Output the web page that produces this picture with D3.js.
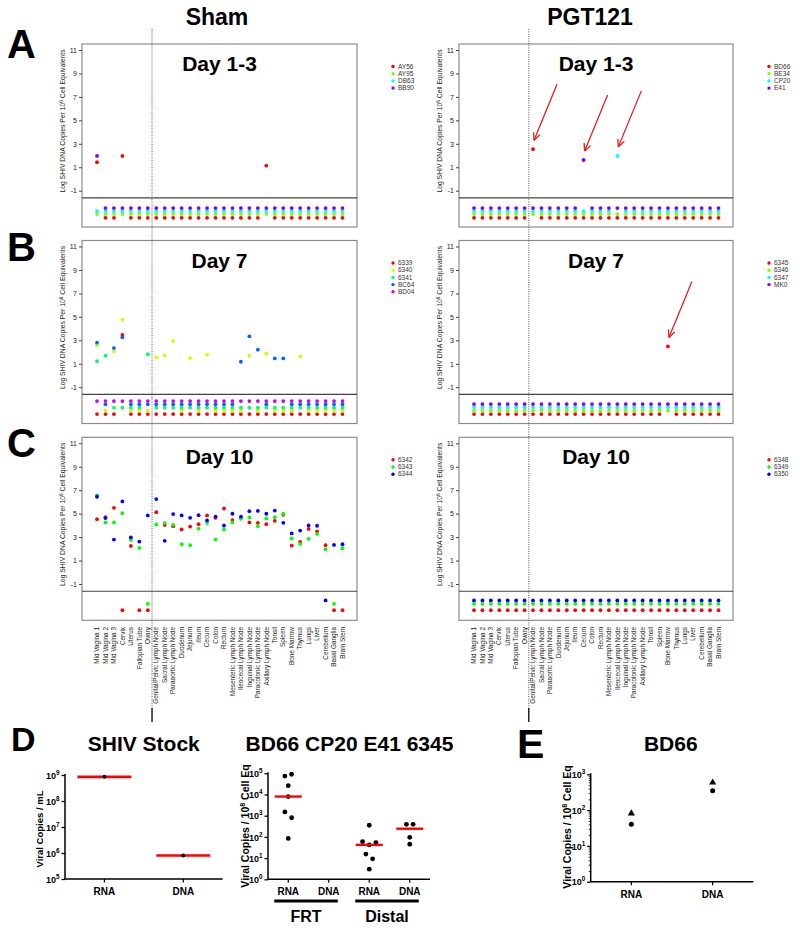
<!DOCTYPE html>
<html><head><meta charset="utf-8">
<script src="https://cdn.jsdelivr.net/npm/d3@7"></script>
<style>
body{margin:0;background:#fff}
svg{display:block}
text{font-family:"Liberation Sans",Arial,Helvetica,sans-serif}
</style>
</head><body>
<svg id="chart" width="800" height="931"></svg>
<script>
// ---------------- DATA ----------------
const tissues = ["Mid Vagina 1","Mid Vagina 2","Mid Vagina 3","Cervix","Uterus","Fallopian Tube","Ovary",
  "Genital/Pelvic Lymph Node","Sacral Lymph Node","Paraaortic Lymph Node","Duodenum","Jejunum","Ileum","Cecum",
  "Colon","Rectum","Mesenteric Lymph Node","Ileocecal Lymph Node","Inguinal Lymph Node","Paracolonic Lymph Node",
  "Axillary Lymph Node","Tonsil","Spleen","Bone Marrow","Thymus","Lungs","Liver","Cerebellum","Basal Ganglia","Brain Stem"];
const yTicks = [11, 9, 7, 5, 3, 1, -1];

// Panel A (Day 1-3)
const shamA_animals = ["AY56","AY95","DB63","BB90"];
const shamA_colors  = ["#ff0000","#80ff00","#00ffff","#8000ff"];
const shamA_ndValue = [-3.31,-2.99,-2.74,-2.48];
const shamA_detected = [["AY56","Mid Vagina 1",1.43],["BB90","Mid Vagina 1",1.97],["AY56","Cervix",1.97],["AY56","Axillary Lymph Node",1.14]];

const pgtA_animals = ["BD66","BE34","CP20","E41"];
const pgtA_colors  = ["#ff0000","#80ff00","#00ffff","#8000ff"];
const pgtA_ndValue = [-3.31,-2.99,-2.74,-2.48];
const pgtA_detected = [["BD66","Genital/Pelvic Lymph Node",2.54],["E41","Cecum",1.62],["CP20","Ileocecal Lymph Node",1.97]];
const pgtA_arrows = [["BD66","Genital/Pelvic Lymph Node"],["E41","Cecum"],["CP20","Ileocecal Lymph Node"]];

// Panel B (Day 7)
const shamB_animals = ["6339","6340","6341","BC64","BD04"];
const shamB_colors  = ["#ff0000","#ccff00","#00ff66","#0066ff","#cc00ff"];
const shamB_ndValue = [-3.29,-3.01,-2.75,-2.46,-2.18];
const shamB_detected = [
  ["BC64","Mid Vagina 1",2.80],["6340","Mid Vagina 1",2.57],["6341","Mid Vagina 1",1.22],
  ["6341","Mid Vagina 2",1.69],
  ["BC64","Mid Vagina 3",2.34],["6340","Mid Vagina 3",2.05],
  ["6340","Cervix",4.77],["BC64","Cervix",3.25],["6339","Cervix",3.45],
  ["6341","Ovary",1.82],
  ["6340","Genital/Pelvic Lymph Node",1.54],["6340","Sacral Lymph Node",1.71],["6340","Paraaortic Lymph Node",2.94],
  ["6340","Jejunum",1.48],["6340","Cecum",1.77],
  ["BC64","Ileocecal Lymph Node",1.17],["BC64","Inguinal Lymph Node",3.34],["6340","Inguinal Lymph Node",1.69],
  ["BC64","Paracolonic Lymph Node",2.20],["6340","Axillary Lymph Node",1.88],
  ["BC64","Tonsil",1.45],["BC64","Spleen",1.45],["6340","Thymus",1.60]];

const pgtB_animals = ["6345","6346","6347","MK0"];
const pgtB_colors  = ["#ff0000","#80ff00","#00ffff","#8000ff"];
const pgtB_ndValue = [-3.29,-3.01,-2.72,-2.44];
const pgtB_detected = [["6345","Bone Marrow",2.48]];
const pgtB_arrows = [["6345","Bone Marrow"]];

// Panel C (Day 10) – full tissue series, null = not detected
const shamC_animals = ["6342","6343","6344"];
const shamC_colors  = ["#ff0000","#00ff00","#0000ff"];
const shamC_ndValue = [-3.23,-2.69,-2.40];
const shamC_6342 = [4.53,4.70,5.50,null,2.25,null,null,5.13,4.04,3.93,3.65,3.90,4.10,4.85,4.64,5.44,4.45,4.64,4.25,4.22,4.10,4.39,4.90,2.28,2.59,3.70,3.48,2.31,null,null];
const shamC_6343 = [6.55,4.25,4.25,5.04,2.76,2.08,null,4.08,4.20,4.05,2.39,2.31,3.73,4.20,2.79,3.65,4.25,4.56,4.67,3.93,4.59,4.70,4.99,2.88,2.42,2.85,3.27,1.97,null,2.05];
const shamC_6344 = [6.44,4.62,2.79,6.04,2.97,2.62,4.85,6.24,2.68,4.96,4.85,4.64,4.87,4.42,4.75,3.99,4.99,4.75,5.21,5.23,4.99,5.26,4.22,3.31,3.56,4.00,3.97,null,2.33,2.39];

const pgtC_animals = ["6348","6349","6350"];
const pgtC_colors  = ["#ff0000","#00ff00","#0000ff"];
const pgtC_ndValue = [-3.23,-2.69,-2.40];
const pgtC_detected = [];

// Panel D
const stockCategories = ["RNA","DNA"];
const stockRNA = [8.5e8];
const stockDNA = [8.0e5];
const tissueCategories = ["FRT RNA","FRT DNA","Distal RNA","Distal DNA"];
const frtRNA = [74000, 90000, 26000, 8000, 1500, 800, 85];
const frtDNA = [];
const distalRNA = [355, 59, 42, 54, 15.5, 9.2, 3];
const distalDNA = [390, 390, 96, 45];

// Panel E
const bd66Categories = ["RNA","DNA"];
const bd66Triangle = [81, 590];
const bd66Circle = [40, 345];

// ---------------- DRAW ----------------
const svg = d3.select("#chart");
const FONT = '"Liberation Sans",Arial,Helvetica,sans-serif';

function toSeries(animals, detected){
  return animals.map(a => tissues.map(t => {
    const d = detected.find(r => r[0]===a && r[1]===t);
    return d ? d[2] : null;
  }));
}

const panels = [
  {side:"L", top:44,    title:"Day 1-3", animals:shamA_animals, colors:shamA_colors, nd:shamA_ndValue, series:toSeries(shamA_animals, shamA_detected), arrows:[]},
  {side:"R", top:44,    title:"Day 1-3", animals:pgtA_animals,  colors:pgtA_colors,  nd:pgtA_ndValue,  series:toSeries(pgtA_animals, pgtA_detected), arrows:pgtA_arrows},
  {side:"L", top:240.5, title:"Day 7",   animals:shamB_animals, colors:shamB_colors, nd:shamB_ndValue, series:toSeries(shamB_animals, shamB_detected), arrows:[]},
  {side:"R", top:240.5, title:"Day 7",   animals:pgtB_animals,  colors:pgtB_colors,  nd:pgtB_ndValue,  series:toSeries(pgtB_animals, pgtB_detected), arrows:pgtB_arrows},
  {side:"L", top:437.3, title:"Day 10",  animals:shamC_animals, colors:shamC_colors, nd:shamC_ndValue, series:[shamC_6342, shamC_6343, shamC_6344], arrows:[], labels:true},
  {side:"R", top:437.3, title:"Day 10",  animals:pgtC_animals,  colors:pgtC_colors,  nd:pgtC_ndValue,  series:toSeries(pgtC_animals, pgtC_detected), arrows:[], labels:true},
];
const boxX = {L:[82,357], R:[459,733]};
const PH = 183;

const xScales = {};
for (const s of ["L","R"]) {
  xScales[s] = d3.scalePoint().domain(tissues).range([boxX[s][0]+15, boxX[s][1]-14.5]);
}

panels.forEach(p => {
  const [x0,x1] = boxX[p.side];
  const x = xScales[p.side];
  const y = d3.scaleLinear().domain([11,-1]).range([p.top+6, p.top+146.7]);
  const g = svg.append("g");
  g.append("rect").attr("x",x0).attr("y",p.top).attr("width",x1-x0).attr("height",PH)
    .attr("fill","none").attr("stroke","#8c8c8c").attr("stroke-width",1.2);
  g.append("line").attr("x1",x0).attr("x2",x1).attr("y1",y(-1.62)).attr("y2",y(-1.62))
    .attr("stroke","#444").attr("stroke-width",1.2);
  const ax = g.append("g").attr("transform",`translate(${x0},0)`)
    .call(d3.axisLeft(y).tickValues(yTicks).tickSize(3).tickPadding(2).tickFormat(d => String(d)));
  ax.select(".domain").remove();
  ax.selectAll(".tick line").attr("stroke","#444");
  ax.selectAll(".tick text").attr("font-size",7).attr("font-family",FONT).attr("fill","#222");
  // y title
  const yt = g.append("text").attr("transform",`translate(${x0-17},${p.top+77}) rotate(-90)`)
    .attr("text-anchor","middle").attr("font-size",6.8).attr("fill","#222");
  yt.append("tspan").text("Log SHIV DNA Copies Per 10");
  yt.append("tspan").attr("dy",-2.5).attr("font-size",4.8).text("6");
  yt.append("tspan").attr("dy",2.5).text(" Cell Equivalents");
  // title
  g.append("text").attr("x",(x0+x1)/2).attr("y",p.top+27).attr("text-anchor","middle")
    .attr("font-size",21).attr("font-weight","bold").attr("fill","#000").text(p.title);
  // legend
  p.animals.forEach((a,i) => {
    const ly = p.top + 22.5 + i*7.2;
    g.append("circle").attr("cx",x1+36).attr("cy",ly).attr("r",1.7).attr("fill",p.colors[i]);
    g.append("text").attr("x",x1+41).attr("y",ly+2.2).attr("font-size",6.5).attr("fill","#333").text(a);
  });
  // dots
  p.animals.forEach((a,i) => {
    g.append("g").selectAll("circle").data(p.series[i].map((v,j)=>({v,t:tissues[j]})))
      .join("circle")
      .attr("cx", d => x(d.t))
      .attr("cy", d => d.v===null ? y(p.nd[i]) : y(d.v))
      .attr("r",1.9).attr("fill",p.colors[i]);
  });
  // arrows
  p.arrows.forEach(([a,t]) => {
    const i = p.animals.indexOf(a);
    const v = p.series[i][tissues.indexOf(t)];
    const px = x(t), py = y(v);
    const tip = [px+1, py-9], tail = [px+24, py-65];
    const ang = Math.atan2(tail[1]-tip[1], tail[0]-tip[0]);
    const ag = g.append("g").attr("stroke","#e02020").attr("stroke-width",1.3).attr("fill","none");
    ag.append("line").attr("x1",tail[0]).attr("y1",tail[1]).attr("x2",tip[0]).attr("y2",tip[1]);
    [-0.45,0.45].forEach(da => {
      ag.append("line").attr("x1",tip[0]).attr("y1",tip[1])
        .attr("x2",tip[0]+8*Math.cos(ang+da)).attr("y2",tip[1]+8*Math.sin(ang+da));
    });
  });
  // tissue labels
  if (p.labels) {
    g.append("g").selectAll("text").data(tissues).join("text")
      .attr("transform", d => `translate(${x(d)+2.2},627) rotate(-90)`)
      .attr("text-anchor","end").attr("font-size",6.4).attr("fill","#222").text(d => d);
  }
});

// vertical dotted lines
for (const s of ["L","R"]) {
  const x = xScales[s];
  const vx = (x(tissues[6]) + x(tissues[7]))/2;
  svg.append("line").attr("x1",vx).attr("x2",vx).attr("y1",29).attr("y2",708)
    .attr("stroke","#555").attr("stroke-width",1).attr("stroke-dasharray","1,1.3");
  svg.append("line").attr("x1",vx).attr("x2",vx).attr("y1",708).attr("y2",722)
    .attr("stroke","#000").attr("stroke-width",1.3);
}

// headers & letters
svg.append("text").attr("x",217).attr("y",25).attr("text-anchor","middle").attr("font-size",23).attr("font-weight","bold").text("Sham");
svg.append("text").attr("x",590).attr("y",25).attr("text-anchor","middle").attr("font-size",23).attr("font-weight","bold").text("PGT121");
[["A",58],["B",261],["C",457]].forEach(([l,yy]) => {
  svg.append("text").attr("x",7).attr("y",yy).attr("font-size",40).attr("font-weight","bold").text(l);
});
svg.append("text").attr("x",11).attr("y",751).attr("font-size",34).attr("font-weight","bold").text("D");
svg.append("text").attr("x",517).attr("y",758).attr("font-size",41).attr("font-weight","bold").text("E");

// ---------- log-axis helper ----------
function logAxis(g, y, x0, decades, minor){
  const ax = g.append("g").attr("transform",`translate(${x0},0)`)
    .call(d3.axisLeft(y).tickValues(decades).tickSize(3.5).tickPadding(2).tickFormat(""));
  ax.select(".domain").remove();
  ax.selectAll(".tick line").attr("stroke","#000").attr("stroke-width",1.3);
  ax.selectAll(".tick").append("text").attr("x",-5.5).attr("dy","0.35em").attr("text-anchor","end")
    .attr("font-size",9).attr("font-weight","bold").attr("fill","#000")
    .each(function(d){
      const el = d3.select(this);
      el.append("tspan").text("10");
      el.append("tspan").attr("dy",-4).attr("font-size",6.3).text(Math.round(Math.log10(d)));
    });
  if (minor) {
    const m = g.append("g").attr("transform",`translate(${x0},0)`)
      .call(d3.axisLeft(y).tickValues(minor).tickSize(2).tickFormat(""));
    m.select(".domain").remove();
    m.selectAll(".tick line").attr("stroke","#000").attr("stroke-width",0.8);
  }
  g.append("line").attr("x1",x0).attr("x2",x0).attr("y1",y.range()[1]-1).attr("y2",y.range()[0])
    .attr("stroke","#000").attr("stroke-width",1.5);
}
function xAxisLine(g, x, xa, xb, yb, cats, labels){
  g.append("line").attr("x1",xa).attr("x2",xb).attr("y1",yb).attr("y2",yb).attr("stroke","#000").attr("stroke-width",1.5);
  cats.forEach((c,i) => {
    g.append("line").attr("x1",x(c)).attr("x2",x(c)).attr("y1",yb).attr("y2",yb+3.5).attr("stroke","#000").attr("stroke-width",1.2);
    g.append("text").attr("x",x(c)).attr("y",yb+16).attr("text-anchor","middle").attr("font-size",10)
      .attr("font-weight","bold").text(labels[i]);
  });
}
function yTitle(g, xx, yy, parts, fs){
  const el = g.append("text").attr("transform",`translate(${xx},${yy}) rotate(-90)`).attr("text-anchor","middle")
    .attr("font-size",fs).attr("font-weight","bold");
  parts.forEach(pp => {
    const ts = el.append("tspan").text(pp[0]);
    if (pp[1]) ts.attr("dy",pp[1]).attr("font-size",pp[2]||fs);
  });
}

// ---------- D left: SHIV stock ----------
{
  const g = svg.append("g");
  const y = d3.scaleLog().domain([1e5,1e9]).range([879,775]);
  const x = d3.scalePoint().domain(stockCategories).range([65,222.7]).padding(0.5);
  g.append("text").attr("x",143.8).attr("y",751).attr("text-anchor","middle").attr("font-size",21).attr("font-weight","bold").text("SHIV Stock");
  logAxis(g, y, 65, [1e5,1e6,1e7,1e8,1e9]);
  xAxisLine(g, x, 65, 222.7, 879, stockCategories, stockCategories);
  yTitle(g, 42.5, 829, [["Viral Copies / mL"]], 9.5);
  [[stockCategories[0],stockRNA],[stockCategories[1],stockDNA]].forEach(([c,vals]) => {
    const med = d3.median(vals);
    g.append("line").attr("x1",x(c)-27).attr("x2",x(c)+27).attr("y1",y(med)).attr("y2",y(med)).attr("stroke","#ff0000").attr("stroke-width",2.6);
    vals.forEach(v => g.append("circle").attr("cx",x(c)).attr("cy",y(v)).attr("r",2).attr("fill","#000"));
  });
}

// ---------- D middle: BD66 CP20 E41 6345 ----------
{
  const g = svg.append("g");
  const y = d3.scaleLog().domain([1,1e5]).range([879.3,773.3]);
  const x = d3.scalePoint().domain(tissueCategories).range([268,430]).padding(0.5);
  g.append("text").attr("x",349.5).attr("y",751).attr("text-anchor","middle").attr("font-size",21).attr("font-weight","bold").text("BD66 CP20 E41 6345");
  logAxis(g, y, 268, [1,10,100,1e3,1e4,1e5]);
  xAxisLine(g, x, 268, 430, 879.3, tissueCategories, ["RNA","DNA","RNA","DNA"]);
  yTitle(g, 248.5, 826, [["Viral Copies / 10"],["8",-4,7],[" Cell Eq",4,10.5]], 10.5);
  const groups = [[tissueCategories[0],frtRNA],[tissueCategories[1],frtDNA],[tissueCategories[2],distalRNA],[tissueCategories[3],distalDNA]];
  groups.forEach(([c,vals]) => {
    if (!vals.length) return;
    const med = d3.median(vals);
    const ys = vals.map(v => y(v));
    const clusters = [];
    ys.forEach((yy,i) => {
      const last = clusters[clusters.length-1];
      if (last && Math.abs(yy - ys[last[last.length-1]]) < 6.5) last.push(i); else clusters.push([i]);
    });
    clusters.forEach(cl => {
      cl.forEach((idx,k) => {
        const off = (k - (cl.length-1)/2) * 6.7;
        g.append("circle").attr("cx",x(c)+off).attr("cy",ys[idx]).attr("r",2.4).attr("fill","#000");
      });
    });
    g.append("line").attr("x1",x(c)-13.5).attr("x2",x(c)+13.5).attr("y1",y(med)).attr("y2",y(med)).attr("stroke","#ff0000").attr("stroke-width",2.4);
  });
  [["FRT",0,1],["Distal",2,3]].forEach(([lab,a,b]) => {
    const xa = x(tissueCategories[a])-14, xb = x(tissueCategories[b])+9;
    g.append("line").attr("x1",xa).attr("x2",xb).attr("y1",901).attr("y2",901).attr("stroke","#000").attr("stroke-width",3);
    g.append("text").attr("x",(xa+xb)/2).attr("y",922).attr("text-anchor","middle").attr("font-size",16).attr("font-weight","bold").text(lab);
  });
}

// ---------- E: BD66 ----------
{
  const g = svg.append("g");
  const y = d3.scaleLog().domain([1,1e3]).range([881.7,774.3]);
  const x = d3.scalePoint().domain(bd66Categories).range([590.7,753.3]).padding(0.5);
  g.append("text").attr("x",670.8).attr("y",751).attr("text-anchor","middle").attr("font-size",21).attr("font-weight","bold").text("BD66");
  const minor = [];
  [1,10,100].forEach(b => { for (let k=2;k<10;k++) minor.push(b*k); });
  logAxis(g, y, 590.7, [1,10,100,1000], minor);
  xAxisLine(g, x, 590.7, 753.3, 881.7, bd66Categories, bd66Categories);
  yTitle(g, 570.5, 827, [["Viral Copies / 10"],["8",-4,7],[" Cell Eq",4,10.5]], 10.5);
  bd66Categories.forEach((c,i) => {
    g.append("path").attr("d", d3.symbol(d3.symbolTriangle, 22)())
      .attr("transform",`translate(${x(c)},${y(bd66Triangle[i])})`).attr("fill","#000");
    g.append("circle").attr("cx",x(c)).attr("cy",y(bd66Circle[i])).attr("r",2.5).attr("fill","#000");
  });
}
</script>
</body></html>
